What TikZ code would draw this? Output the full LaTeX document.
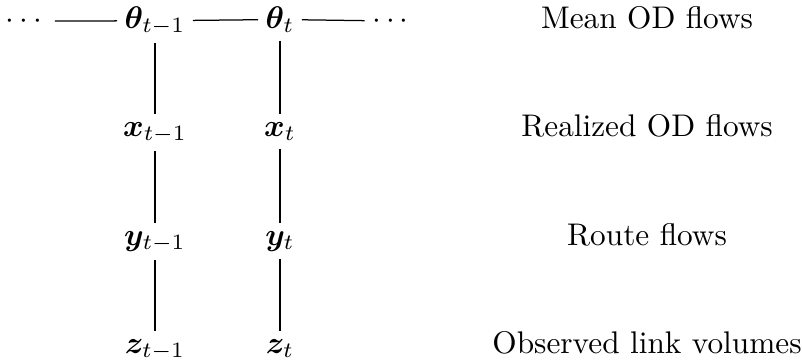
\documentclass[tikz,border=0pt]{standalone}
\usepackage{amsmath,bm}
\begin{document}
\begin{tikzpicture}[x=0.3195pt,y=-0.3195pt,
  var/.style={inner xsep=2.2pt,inner ysep=2.3pt,anchor=base},
  lbl/.style={inner sep=0pt,anchor=base},
  link/.style={draw=black,line width=0.4pt}]
\useasboundingbox (0,0) rectangle (802,363);
\node[var] (dl) at (26.5,28) {$\cdots$};
\node[var] (th1) at (155,28) {$\bm{\theta}_{t-1}$};
\node[var] (th2) at (280,28) {$\bm{\theta}_{t}$};
\node[var] (dr) at (393,28) {$\cdots$};
\node[var] (x1) at (155,136) {$\bm{x}_{t-1}$};
\node[var] (x2) at (280,136) {$\bm{x}_{t}$};
\node[var] (y1) at (155,245) {$\bm{y}_{t-1}$};
\node[var] (y2) at (280,245) {$\bm{y}_{t}$};
\node[var] (z1) at (155,353) {$\bm{z}_{t-1}$};
\node[var] (z2) at (280,353) {$\bm{z}_{t}$};
\draw[link] (dl) -- (th1);
\draw[link] (th1) -- (th2);
\draw[link] (th2) -- (dr);
\draw[link] (th1.south) -- (x1.north);
\draw[link] (th2.south) -- (x2.north);
\draw[link] (x1.south) -- (y1.north);
\draw[link] (x2.south) -- (y2.north);
\draw[link] (y1.south) -- (z1.north);
\draw[link] (y2.south) -- (z2.north);
\node[lbl] (l1) at (647,28) {Mean OD flows};
\node[lbl] (l2) at (647,136) {Realized OD flows};
\node[lbl] (l3) at (647,245) {Route flows};
\node[lbl] (l4) at (647,353) {Observed link volumes};
\end{tikzpicture}
\end{document}
